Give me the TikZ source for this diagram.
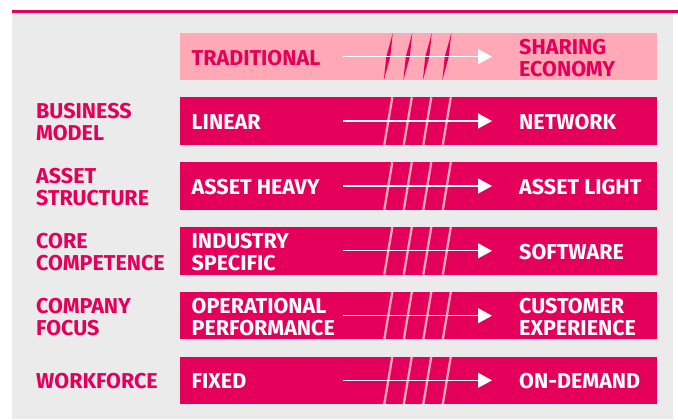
\documentclass[tikz,border=0pt]{standalone}
\usepackage{fontspec}
\setmainfont{Fira Sans}
\usetikzlibrary{positioning, calc, arrows.meta}
\definecolor{shMagenta}{RGB}{228,0,90}
\definecolor{shPink}{RGB}{255,168,182}
\definecolor{shGray}{RGB}{235,235,235}

\begin{document}
\begin{tikzpicture}[x=1bp, y=-1bp,
    bar/.style={rectangle, minimum width=477bp, minimum height=47.5bp, inner sep=0pt, outer sep=0pt},
    gapline/.style={line width=2.3bp},
    txt/.style={anchor=west, inner sep=0pt, yshift=-1bp, align=left, font=\fontsize{21.5bp}{22bp}\selectfont\bfseries},
    flow/.style={draw=white, line width=1.3bp, -{Triangle[length=14bp, width=15bp]}}]
  \useasboundingbox (0,0) rectangle (678,419);
  \fill[shGray] (12,12.5) rectangle (673,419);
  \draw[shMagenta, line width=2.6bp] (12,11.5) -- (678,11.5);

  % header row
  \node[bar, fill=shPink] (head) at (418.5,56.7) {};
  \foreach \g in {0,...,3}
    \fill[shMagenta] ($(head.center)+(19.5*\g-25.7,-23.7)$) -- ($(head.center)+(19.5*\g-32.2,0)$)
      -- ($(head.center)+(19.5*\g-34.7,23.7)$) -- ($(head.center)+(19.5*\g-28.2,0)$) -- cycle;
  \draw[flow] ($(head.west)+(163,0)$) -- ($(head.west)+(312,0)$);
  \node[txt, shMagenta, right=11.5bp of head.west] (head-src) {TRADITIONAL};
  \node[txt, shMagenta, right=339bp of head.west] (head-dst) {SHARING\\ECONOMY};

  % one row per dimension
  \foreach \n/\y/\lbl/\src/\dst in {
      biz/121/{BUSINESS\\MODEL}/LINEAR/NETWORK,
      asset/186/{ASSET\\STRUCTURE}/ASSET HEAVY/ASSET LIGHT,
      core/250.8/{CORE\\COMPETENCE}/{INDUSTRY\\SPECIFIC}/SOFTWARE,
      focus/315.7/{COMPANY\\FOCUS}/{OPERATIONAL\\PERFORMANCE}/{CUSTOMER\\EXPERIENCE},
      work/380.3/WORKFORCE/FIXED/ON-DEMAND}
  {
    \node[bar, fill=shMagenta] (\n) at (418.5,\y) {};
    \foreach \g in {0,...,3}
      \draw[gapline, shPink] ($(\n.center)+(19.5*\g-26.2,-23.7)$) -- ($(\n.center)+(19.5*\g-34.2,23.7)$);
    \draw[flow] ($(\n.west)+(163,0)$) -- ($(\n.west)+(312,0)$);
    \node[txt, white, right=11.5bp of \n.west] (\n-src) {\src};
    \node[txt, white, right=339bp of \n.west] (\n-dst) {\dst};
    \node[txt, shMagenta] (\n-lbl) at ($(\n.west)+(-144,0)$) {\lbl};
  }
\end{tikzpicture}
\end{document}
